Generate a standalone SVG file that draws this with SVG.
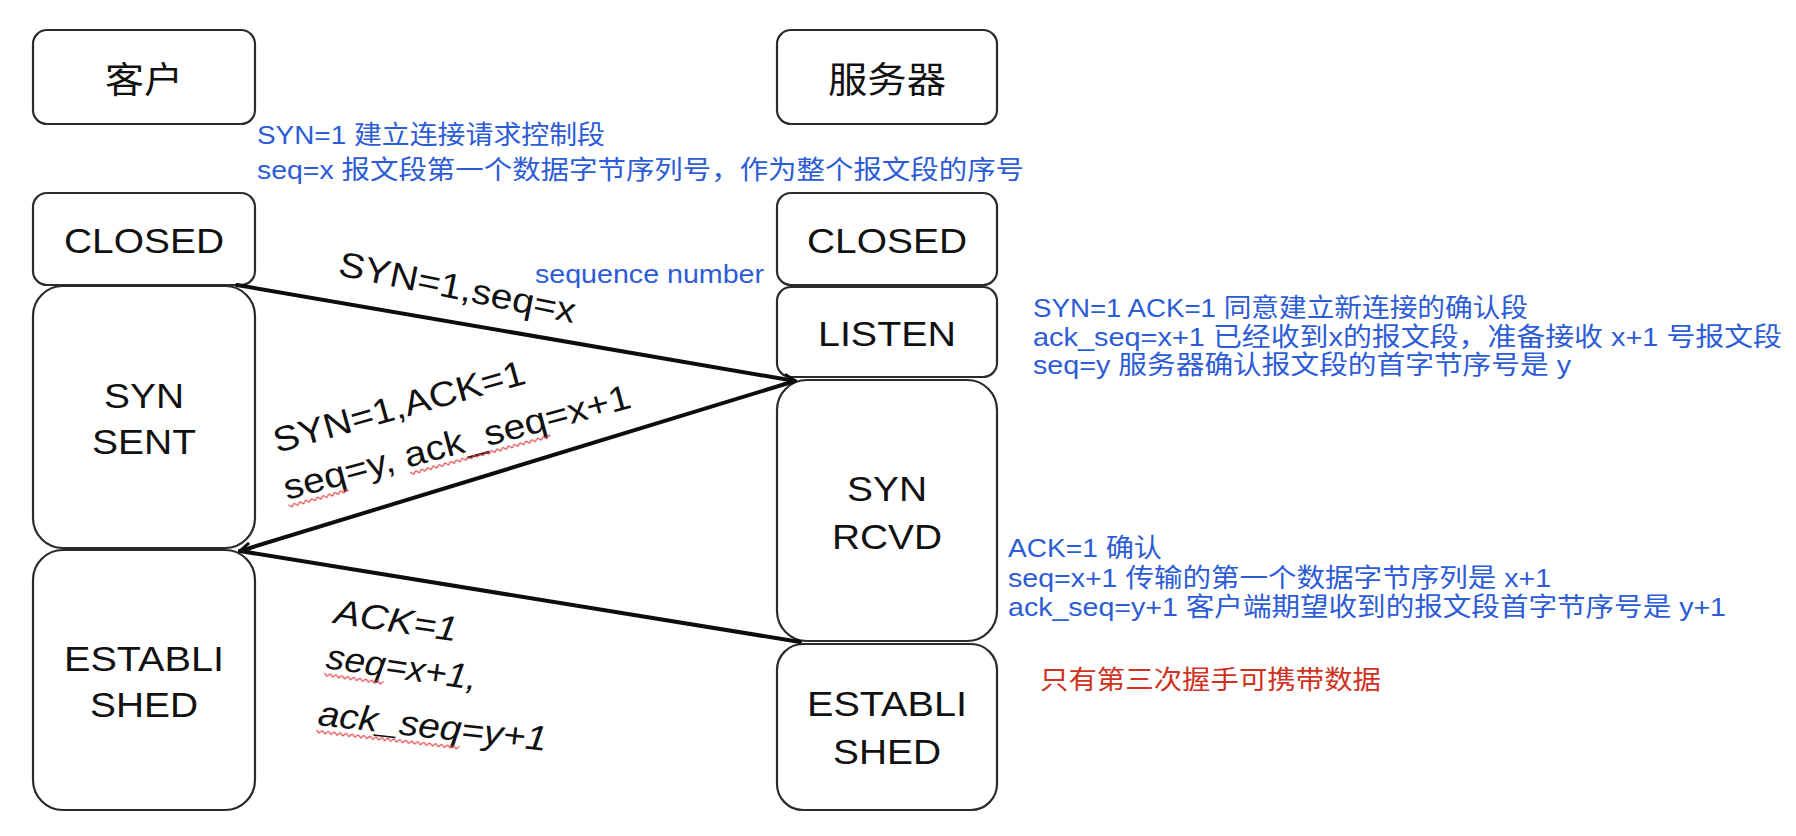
<svg xmlns="http://www.w3.org/2000/svg" width="1796" height="836" viewBox="0 0 1796 836">
<style>
  .box { fill: #ffffff; stroke: #2b2b2b; stroke-width: 2.2; }
  .bt { font-family: "Liberation Sans", "Noto Sans CJK SC", sans-serif; font-size: 35px; fill: #111111; text-anchor: middle; dominant-baseline: central; }
  .cjk { font-family: "Noto Sans CJK SC", sans-serif; font-size: 36px; }
  .blue { font-family: "Liberation Sans", "Noto Sans CJK SC", sans-serif; font-size: 26px; fill: #2c5cd6; }
  .red { font-family: "Noto Sans CJK SC", sans-serif; font-size: 26px; fill: #d0321f; }
  .lbl { font-family: "Liberation Sans", sans-serif; font-size: 35px; fill: #111111; }
  .conn { stroke: #0d0d0d; stroke-width: 4; fill: none; stroke-linecap: round; }
  .squig { fill: url(#squig); }
</style>
<defs>
  <marker id="open" markerUnits="userSpaceOnUse" viewBox="0 0 16 16" refX="15" refY="8" markerWidth="16" markerHeight="16" orient="auto">
    <path d="M4,3 L15,8 L4,13" fill="none" stroke="#0d0d0d" stroke-width="3" stroke-linejoin="miter"/>
  </marker>
  <pattern id="squig" patternUnits="userSpaceOnUse" x="0" y="4" width="6" height="5">
    <path d="M0,1 L3,4 L6,1" fill="none" stroke="#e0424a" stroke-width="1.2"/>
  </pattern>
</defs>
<rect x="0" y="0" width="1796" height="836" fill="#ffffff"/>

<g id="client-title">
  <rect class="box" x="33" y="30" width="222" height="94" rx="14"/>
  <text class="bt cjk" x="144" y="77" textLength="78" lengthAdjust="spacingAndGlyphs">客户</text>
</g>
<g id="server-title">
  <rect class="box" x="777" y="30" width="220" height="94" rx="14"/>
  <text class="bt cjk" x="887" y="77" textLength="118" lengthAdjust="spacingAndGlyphs">服务器</text>
</g>

<g id="client-closed">
  <rect class="box" x="33" y="193" width="222" height="92" rx="14"/>
  <text class="bt" x="144" y="240" textLength="160" lengthAdjust="spacingAndGlyphs">CLOSED</text>
</g>
<g id="client-syn-sent">
  <rect class="box" x="33" y="286" width="222" height="262" rx="30"/>
  <text class="bt" x="144" y="395" textLength="80" lengthAdjust="spacingAndGlyphs">SYN</text>
  <text class="bt" x="144" y="441" textLength="104" lengthAdjust="spacingAndGlyphs">SENT</text>
</g>
<g id="client-established">
  <rect class="box" x="33" y="550" width="222" height="260" rx="30"/>
  <text class="bt" x="144" y="658" textLength="160" lengthAdjust="spacingAndGlyphs">ESTABLI</text>
  <text class="bt" x="144" y="704" textLength="108" lengthAdjust="spacingAndGlyphs">SHED</text>
</g>

<g id="server-closed">
  <rect class="box" x="777" y="193" width="220" height="92" rx="14"/>
  <text class="bt" x="887" y="240" textLength="160" lengthAdjust="spacingAndGlyphs">CLOSED</text>
</g>
<g id="server-listen">
  <rect class="box" x="777" y="287" width="220" height="90" rx="14"/>
  <text class="bt" x="887" y="333" textLength="138" lengthAdjust="spacingAndGlyphs">LISTEN</text>
</g>
<g id="server-syn-rcvd">
  <rect class="box" x="777" y="380" width="220" height="261" rx="30"/>
  <text class="bt" x="887" y="488" textLength="80" lengthAdjust="spacingAndGlyphs">SYN</text>
  <text class="bt" x="887" y="536" textLength="110" lengthAdjust="spacingAndGlyphs">RCVD</text>
</g>
<g id="server-established">
  <rect class="box" x="777" y="644" width="220" height="166" rx="26"/>
  <text class="bt" x="887" y="703" textLength="160" lengthAdjust="spacingAndGlyphs">ESTABLI</text>
  <text class="bt" x="887" y="751" textLength="108" lengthAdjust="spacingAndGlyphs">SHED</text>
</g>

<g id="connectors">
  <line class="conn" x1="237" y1="285" x2="795" y2="381" marker-end="url(#open)"/>
  <line class="conn" x1="795" y1="381" x2="240" y2="551" marker-end="url(#open)"/>
  <line class="conn" x1="240" y1="551" x2="800" y2="642"/>
  <g transform="translate(337,275) rotate(11.5)">
    <text class="lbl" x="0" y="0" textLength="241" lengthAdjust="spacingAndGlyphs">SYN=1,seq=x</text>
  </g>
  <g transform="translate(277,453) rotate(-15.6)">
    <text class="lbl" x="0" y="0" textLength="260" lengthAdjust="spacingAndGlyphs">SYN=1,ACK=1</text>
  </g>
  <g transform="translate(287,500) rotate(-15)">
    <text class="lbl" x="0" y="0" textLength="358" lengthAdjust="spacingAndGlyphs">seq=y, ack_seq=x+1</text>
    <rect class="squig" x="0" y="4" width="62" height="5"/>
    <rect class="squig" x="126" y="4" width="145" height="5"/>
  </g>
  <g transform="translate(333,623) rotate(8.5)">
    <text class="lbl" x="0" y="0" font-style="italic" textLength="124" lengthAdjust="spacingAndGlyphs">ACK=1</text>
  </g>
  <g transform="translate(325,668) rotate(8.3)">
    <text class="lbl" x="0" y="0" font-style="italic" textLength="152" lengthAdjust="spacingAndGlyphs">seq=x+1,</text>
    <rect class="squig" x="0" y="4" width="60" height="5"/>
  </g>
  <g transform="translate(317,725) rotate(6.5)">
    <text class="lbl" x="0" y="0" font-style="italic" textLength="230" lengthAdjust="spacingAndGlyphs">ack_seq=y+1</text>
    <rect class="squig" x="0" y="4" width="144" height="5"/>
  </g>
</g>

<g id="note-syn">
  <text class="blue" x="257" y="144" textLength="348" lengthAdjust="spacingAndGlyphs">SYN=1 建立连接请求控制段</text>
  <text class="blue" x="257" y="179" textLength="767" lengthAdjust="spacingAndGlyphs">seq=x 报文段第一个数据字节序列号，作为整个报文段的序号</text>
</g>
<g id="note-seqnum">
  <text class="blue" x="535" y="283" textLength="229" lengthAdjust="spacingAndGlyphs">sequence number</text>
</g>
<g id="note-synack">
  <text class="blue" x="1033" y="317" textLength="495" lengthAdjust="spacingAndGlyphs">SYN=1 ACK=1 同意建立新连接的确认段</text>
  <text class="blue" x="1033" y="346" textLength="749" lengthAdjust="spacingAndGlyphs">ack_seq=x+1 已经收到x的报文段，准备接收 x+1 号报文段</text>
  <text class="blue" x="1033" y="374" textLength="538" lengthAdjust="spacingAndGlyphs">seq=y 服务器确认报文段的首字节序号是 y</text>
</g>
<g id="note-ack">
  <text class="blue" x="1008" y="557" textLength="154" lengthAdjust="spacingAndGlyphs">ACK=1 确认</text>
  <text class="blue" x="1008" y="587" textLength="543" lengthAdjust="spacingAndGlyphs">seq=x+1 传输的第一个数据字节序列是 x+1</text>
  <text class="blue" x="1008" y="616" textLength="718" lengthAdjust="spacingAndGlyphs">ack_seq=y+1 客户端期望收到的报文段首字节序号是 y+1</text>
</g>
<g id="note-data">
  <text class="red" x="1040" y="689" textLength="341" lengthAdjust="spacingAndGlyphs">只有第三次握手可携带数据</text>
</g>
</svg>
